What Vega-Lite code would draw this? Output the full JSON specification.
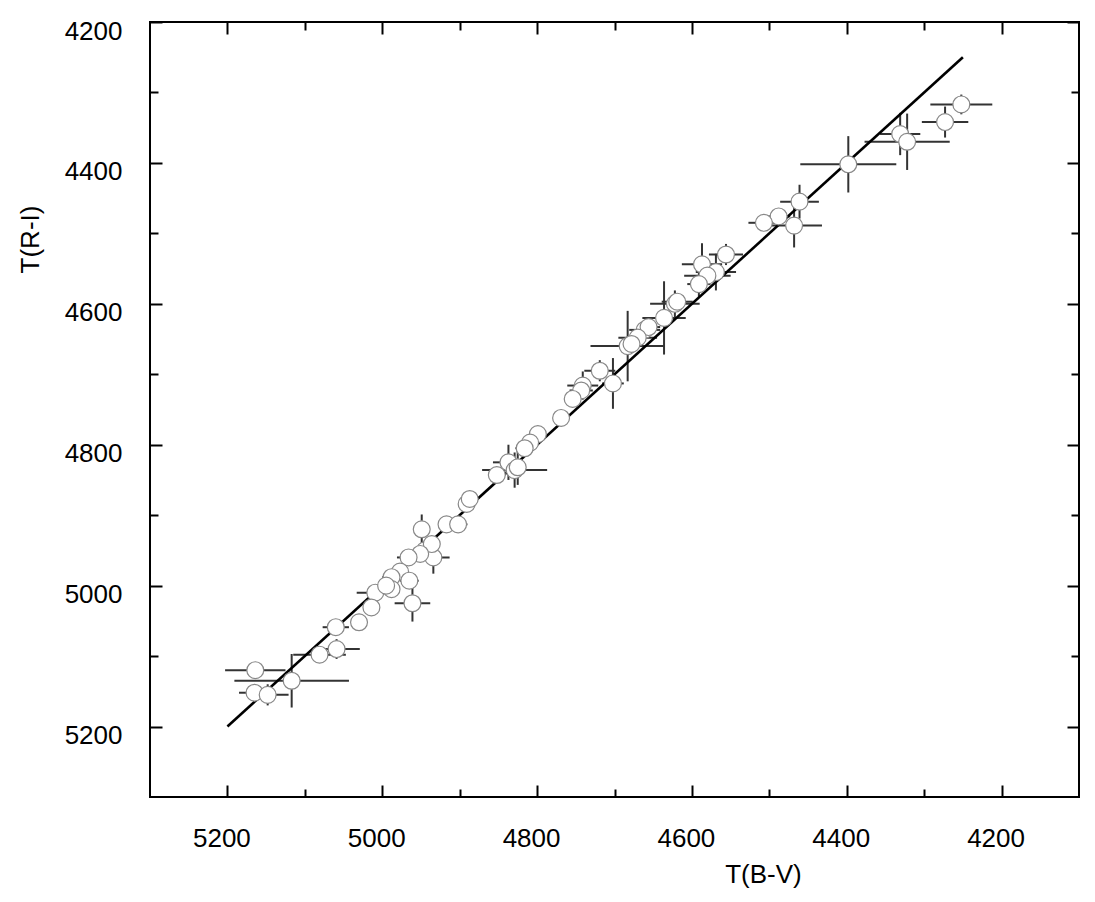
{
  "$schema": "https://vega.github.io/schema/vega-lite/v6.json",
  "width": 929,
  "height": 775,
  "autosize": "none",
  "padding": {"left": 150, "top": 22, "right": 16, "bottom": 105},
  "background": "white",
  "config": {
    "view": {"stroke": "#000000", "strokeWidth": 2},
    "axis": {
      "domain": false,
      "grid": false,
      "tickColor": "#000000",
      "tickWidth": 2,
      "labelFont": "Liberation Sans",
      "titleFont": "Liberation Sans",
      "labelFontSize": 26,
      "titleFontSize": 26,
      "labelColor": "#000000",
      "titleColor": "#000000",
      "titleFontWeight": "normal",
      "labelOverlap": false,
      "labelFlush": false
    }
  },
  "datasets": {
    "pts": [
      {"x": 4252, "y": 4317, "xlo": 4212, "xhi": 4292, "ylo": 4303, "yhi": 4331},
      {"x": 4273, "y": 4342, "xlo": 4243, "xhi": 4303, "ylo": 4320, "yhi": 4364},
      {"x": 4331, "y": 4359, "xlo": 4305, "xhi": 4357, "ylo": 4329, "yhi": 4389},
      {"x": 4322, "y": 4370, "xlo": 4267, "xhi": 4377, "ylo": 4330, "yhi": 4410},
      {"x": 4398, "y": 4402, "xlo": 4336, "xhi": 4460, "ylo": 4362, "yhi": 4442},
      {"x": 4461, "y": 4455, "xlo": 4436, "xhi": 4486, "ylo": 4431, "yhi": 4479},
      {"x": 4468, "y": 4489, "xlo": 4432, "xhi": 4504, "ylo": 4458, "yhi": 4520},
      {"x": 4488, "y": 4476, "xlo": 4473, "xhi": 4503, "ylo": 4468, "yhi": 4484},
      {"x": 4507, "y": 4485, "xlo": 4487, "xhi": 4527, "ylo": 4475, "yhi": 4495},
      {"x": 4556, "y": 4530, "xlo": 4534, "xhi": 4578, "ylo": 4515, "yhi": 4545},
      {"x": 4587, "y": 4544, "xlo": 4561, "xhi": 4613, "ylo": 4514, "yhi": 4574},
      {"x": 4569, "y": 4555, "xlo": 4543, "xhi": 4595, "ylo": 4529, "yhi": 4581},
      {"x": 4580, "y": 4560, "xlo": 4550, "xhi": 4610, "ylo": 4548, "yhi": 4572},
      {"x": 4591, "y": 4572, "xlo": 4576, "xhi": 4606, "ylo": 4554, "yhi": 4590},
      {"x": 4622, "y": 4600, "xlo": 4590, "xhi": 4654, "ylo": 4581, "yhi": 4619},
      {"x": 4619, "y": 4597, "xlo": 4599, "xhi": 4639, "ylo": 4587, "yhi": 4607},
      {"x": 4636, "y": 4620, "xlo": 4608, "xhi": 4664, "ylo": 4568, "yhi": 4672},
      {"x": 4661, "y": 4637, "xlo": 4641, "xhi": 4681, "ylo": 4627, "yhi": 4647},
      {"x": 4656, "y": 4633, "xlo": 4641, "xhi": 4671, "ylo": 4621, "yhi": 4645},
      {"x": 4670, "y": 4648, "xlo": 4645, "xhi": 4695, "ylo": 4633, "yhi": 4663},
      {"x": 4683, "y": 4660, "xlo": 4635, "xhi": 4731, "ylo": 4610, "yhi": 4710},
      {"x": 4678, "y": 4657, "xlo": 4663, "xhi": 4693, "ylo": 4647, "yhi": 4667},
      {"x": 4702, "y": 4713, "xlo": 4688, "xhi": 4716, "ylo": 4677, "yhi": 4749},
      {"x": 4719, "y": 4695, "xlo": 4699, "xhi": 4739, "ylo": 4680, "yhi": 4710},
      {"x": 4741, "y": 4716, "xlo": 4721, "xhi": 4761, "ylo": 4696, "yhi": 4736},
      {"x": 4743, "y": 4723, "xlo": 4728, "xhi": 4758, "ylo": 4711, "yhi": 4735},
      {"x": 4754, "y": 4735, "xlo": 4744, "xhi": 4764, "ylo": 4727, "yhi": 4743},
      {"x": 4769, "y": 4762, "xlo": 4761, "xhi": 4777, "ylo": 4757, "yhi": 4767},
      {"x": 4799, "y": 4785, "xlo": 4791, "xhi": 4807, "ylo": 4779, "yhi": 4791},
      {"x": 4809, "y": 4797, "xlo": 4799, "xhi": 4819, "ylo": 4789, "yhi": 4805},
      {"x": 4816, "y": 4805, "xlo": 4804, "xhi": 4828, "ylo": 4795, "yhi": 4815},
      {"x": 4837, "y": 4825, "xlo": 4817, "xhi": 4857, "ylo": 4800, "yhi": 4850},
      {"x": 4829, "y": 4836, "xlo": 4787, "xhi": 4871, "ylo": 4811, "yhi": 4861},
      {"x": 4852, "y": 4843, "xlo": 4842, "xhi": 4862, "ylo": 4835, "yhi": 4851},
      {"x": 4825, "y": 4832, "xlo": 4815, "xhi": 4835, "ylo": 4807, "yhi": 4857},
      {"x": 4891, "y": 4884, "xlo": 4881, "xhi": 4901, "ylo": 4876, "yhi": 4892},
      {"x": 4887, "y": 4877, "xlo": 4879, "xhi": 4895, "ylo": 4871, "yhi": 4883},
      {"x": 4917, "y": 4913, "xlo": 4907, "xhi": 4927, "ylo": 4905, "yhi": 4921},
      {"x": 4902, "y": 4913, "xlo": 4890, "xhi": 4914, "ylo": 4903, "yhi": 4923},
      {"x": 4949, "y": 4920, "xlo": 4941, "xhi": 4957, "ylo": 4899, "yhi": 4941},
      {"x": 4945, "y": 4950, "xlo": 4935, "xhi": 4955, "ylo": 4940, "yhi": 4960},
      {"x": 4934, "y": 4960, "xlo": 4913, "xhi": 4955, "ylo": 4937, "yhi": 4983},
      {"x": 4936, "y": 4941, "xlo": 4926, "xhi": 4946, "ylo": 4931, "yhi": 4951},
      {"x": 4951, "y": 4955, "xlo": 4941, "xhi": 4961, "ylo": 4947, "yhi": 4963},
      {"x": 4966, "y": 4960, "xlo": 4951, "xhi": 4981, "ylo": 4948, "yhi": 4972},
      {"x": 4977, "y": 4980, "xlo": 4967, "xhi": 4987, "ylo": 4970, "yhi": 4990},
      {"x": 4988, "y": 4988, "xlo": 4976, "xhi": 5000, "ylo": 4978, "yhi": 4998},
      {"x": 4965, "y": 4993, "xlo": 4953, "xhi": 4977, "ylo": 4983, "yhi": 5003},
      {"x": 4988, "y": 5005, "xlo": 4978, "xhi": 4998, "ylo": 4997, "yhi": 5013},
      {"x": 5009, "y": 5010, "xlo": 4985, "xhi": 5033, "ylo": 5000, "yhi": 5020},
      {"x": 5014, "y": 5031, "xlo": 5006, "xhi": 5022, "ylo": 5023, "yhi": 5039},
      {"x": 4961, "y": 5025, "xlo": 4938, "xhi": 4984, "ylo": 4999, "yhi": 5051},
      {"x": 5030, "y": 5052, "xlo": 5020, "xhi": 5040, "ylo": 5044, "yhi": 5060},
      {"x": 5060, "y": 5059, "xlo": 5043, "xhi": 5077, "ylo": 5049, "yhi": 5069},
      {"x": 5059, "y": 5090, "xlo": 5029, "xhi": 5089, "ylo": 5076, "yhi": 5104},
      {"x": 5081, "y": 5098, "xlo": 5047, "xhi": 5115, "ylo": 5088, "yhi": 5108},
      {"x": 5164, "y": 5120, "xlo": 5125, "xhi": 5203, "ylo": 5112, "yhi": 5128},
      {"x": 5117, "y": 5135, "xlo": 5043, "xhi": 5191, "ylo": 5097, "yhi": 5173},
      {"x": 5165, "y": 5152, "xlo": 5145, "xhi": 5185, "ylo": 5144, "yhi": 5160},
      {"x": 5148, "y": 5155, "xlo": 5121, "xhi": 5175, "ylo": 5140, "yhi": 5170},
      {"x": 4995, "y": 5000, "xlo": 4985, "xhi": 5005, "ylo": 4992, "yhi": 5008}
    ],
    "fit": [
      {"x": 5200, "y": 5200},
      {"x": 4250, "y": 4250}
    ]
  },
  "resolve": {"axis": {"x": "independent", "y": "independent"}},
  "layer": [
    {
      "data": {"name": "pts"},
      "mark": {"type": "rule", "color": "#333333", "strokeWidth": 2},
      "encoding": {
        "x": {
          "field": "xlo", "type": "quantitative",
          "scale": {"domain": [4100, 5300], "reverse": true, "nice": false, "zero": false},
          "axis": {
            "orient": "bottom",
            "values": [4200, 4300, 4400, 4500, 4600, 4700, 4800, 4900, 5000, 5100, 5200],
            "tickSize": {"condition": {"test": "datum.value % 200 === 0", "value": -12}, "value": -8},
            "labelExpr": "datum.value % 200 === 0 ? format(datum.value, 'd') : ''",
            "labelPadding": 40,
            "labelOffset": -6,
            "labelBaseline": "top",
            "title": "T(B-V)",
            "titleX": 613,
            "titleY": 85,
            "titleAlign": "center",
            "titleBaseline": "alphabetic",
            "titleAnchor": null
          }
        },
        "x2": {"field": "xhi"},
        "y": {
          "field": "y", "type": "quantitative",
          "scale": {"domain": [4200, 5300], "reverse": true, "nice": false, "zero": false},
          "axis": {
            "orient": "left",
            "values": [4200, 4300, 4400, 4500, 4600, 4700, 4800, 4900, 5000, 5100, 5200],
            "tickSize": {"condition": {"test": "datum.value % 200 === 0", "value": -12}, "value": -8},
            "labelExpr": "datum.value % 200 === 0 ? format(datum.value, 'd') : ''",
            "labelPadding": 40,
            "labelOffset": 9,
            "labelBaseline": "middle",
            "labelAlign": "right",
            "title": "T(R-I)",
            "titleX": -112,
            "titleY": 217,
            "titleAngle": -90,
            "titleAlign": "center",
            "titleBaseline": "alphabetic",
            "titleAnchor": null
          }
        }
      }
    },
    {
      "data": {"name": "pts"},
      "mark": {"type": "rule", "color": "#333333", "strokeWidth": 2},
      "encoding": {
        "x": {
          "field": "x", "type": "quantitative",
          "axis": {
            "orient": "top",
            "values": [4200, 4300, 4400, 4500, 4600, 4700, 4800, 4900, 5000, 5100, 5200],
            "tickSize": {"condition": {"test": "datum.value % 200 === 0", "value": -12}, "value": -8},
            "labels": false,
            "title": null
          }
        },
        "y": {
          "field": "ylo", "type": "quantitative",
          "axis": {
            "orient": "right",
            "values": [4200, 4300, 4400, 4500, 4600, 4700, 4800, 4900, 5000, 5100, 5200],
            "tickSize": {"condition": {"test": "datum.value % 200 === 0", "value": -12}, "value": -8},
            "labels": false,
            "title": null
          }
        },
        "y2": {"field": "yhi"}
      }
    },
    {
      "data": {"name": "fit"},
      "mark": {"type": "line", "color": "#000000", "strokeWidth": 2.6},
      "encoding": {
        "x": {"field": "x", "type": "quantitative", "axis": null},
        "y": {"field": "y", "type": "quantitative", "axis": null}
      }
    },
    {
      "data": {"name": "pts"},
      "mark": {"type": "circle", "size": 285, "fill": "#ffffff", "stroke": "#888888", "strokeWidth": 1.2, "opacity": 1, "fillOpacity": 1},
      "encoding": {
        "x": {"field": "x", "type": "quantitative", "axis": null},
        "y": {"field": "y", "type": "quantitative", "axis": null}
      }
    }
  ]
}
